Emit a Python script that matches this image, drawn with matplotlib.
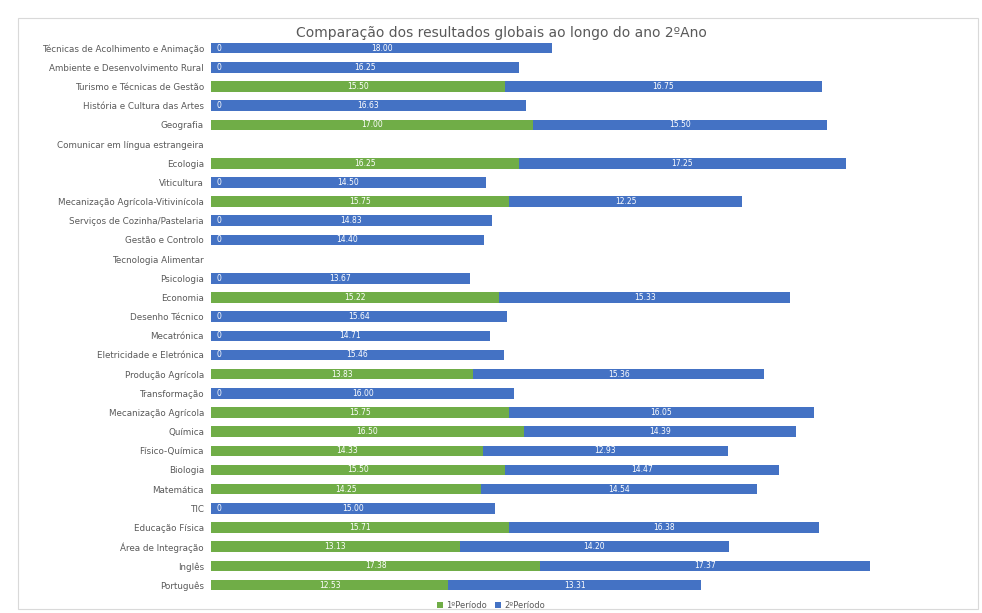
import numpy as np
import matplotlib.pyplot as plt
from matplotlib.patches import Rectangle

# subjects, top to bottom as in the chart
disciplinas = [
    'Técnicas de Acolhimento e Animação', 'Ambiente e Desenvolvimento Rural',
    'Turismo e Técnicas de Gestão', 'História e Cultura das Artes', 'Geografia',
    'Comunicar em língua estrangeira', 'Ecologia', 'Viticultura',
    'Mecanização Agrícola-Vitivinícola', 'Serviços de Cozinha/Pastelaria',
    'Gestão e Controlo', 'Tecnologia Alimentar', 'Psicologia', 'Economia',
    'Desenho Técnico', 'Mecatrónica', 'Eletricidade e Eletrónica',
    'Produção Agrícola', 'Transformação', 'Mecanização Agrícola', 'Química',
    'Físico-Química', 'Biologia', 'Matemática', 'TIC', 'Educação Física',
    'Área de Integração', 'Inglês', 'Português',
]
# None = no value at all (no bar, no label)
periodo1 = [0, 0, 15.50, 0, 17.00, None, 16.25, 0, 15.75, 0, 0, None, 0, 15.22,
            0, 0, 0, 13.83, 0, 15.75, 16.50, 14.33, 15.50, 14.25, 0, 15.71,
            13.13, 17.38, 12.53]
periodo2 = [18.00, 16.25, 16.75, 16.63, 15.50, None, 17.25, 14.50, 12.25, 14.83,
            14.40, None, 13.67, 15.33, 15.64, 14.71, 15.46, 15.36, 16.00, 16.05,
            14.39, 12.93, 14.47, 14.54, 15.00, 16.38, 14.20, 17.37, 13.31]

verde = '#70AD47'
azul = '#4472C4'

fig = plt.figure(figsize=(9.82, 6.13), dpi=100)
ax = fig.add_axes([211 / 982, 0.030, 758 / 982, 0.907])

y = np.arange(len(disciplinas))
p1 = np.array([v if v is not None else 0 for v in periodo1])
p2 = np.array([v if v is not None else 0 for v in periodo2])

ax.barh(y, p1, height=0.55, color=verde, label='1ºPeríodo')
ax.barh(y, p2, left=p1, height=0.55, color=azul, label='2ºPeríodo')

for i in range(len(disciplinas)):
    if periodo1[i] is None:
        continue
    if periodo1[i] == 0:
        ax.text(0.3, i, '0', color='white', fontsize=5.5, va='center', ha='left')
    else:
        ax.text(p1[i] / 2, i, f'{p1[i]:.2f}', color='white', fontsize=5.5,
                va='center', ha='center')
    ax.text(p1[i] + p2[i] / 2, i, f'{p2[i]:.2f}', color='white', fontsize=5.5,
            va='center', ha='center')

ax.set_xlim(0, 40)
ax.set_ylim(len(disciplinas) - 0.5, -0.5)
ax.set_yticks(y)
ax.set_yticklabels(disciplinas, fontsize=6.3, color='#595959')
ax.tick_params(axis='y', length=0, pad=5)
ax.set_xticks([])
for s in ax.spines.values():
    s.set_visible(False)

fig.text(0.511, 0.946, 'Comparação dos resultados globais ao longo do ano 2ºAno',
         ha='center', va='center', fontsize=10, color='#595959')
fig.legend(loc='center', bbox_to_anchor=(0.5, 0.013), ncol=2, frameon=False,
           fontsize=6, labelcolor='#595959', handlelength=0.7, handleheight=0.7,
           columnspacing=1.0, handletextpad=0.4)

fig.patches.append(Rectangle((18 / 982, 4 / 613), 960 / 982, 591 / 613,
                             transform=fig.transFigure, fill=False,
                             edgecolor='#d9d9d9', linewidth=0.8))

fig.savefig('out.png', dpi=100)
